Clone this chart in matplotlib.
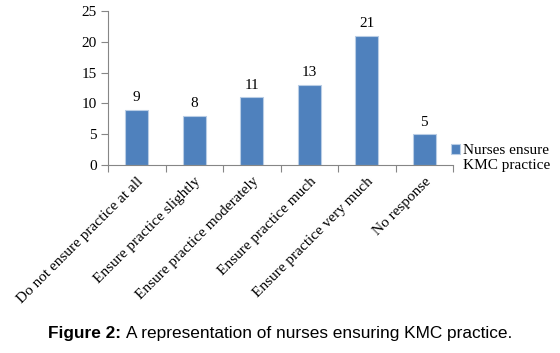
import matplotlib
matplotlib.use('Agg')
import matplotlib.pyplot as plt
import numpy as np

categories = ['Do not ensure practice at all', 'Ensure practice slightly',
              'Ensure practice moderately', 'Ensure practice much',
              'Ensure practice very much', 'No response']
values = [9, 8, 11, 13, 21, 5]
series_name = 'Nurses ensure\nKMC practice'

BAR_COLOR = '#4F81BD'
AXIS_COLOR = '#868686'

plt.rcParams.update({'font.family': 'Liberation Serif',
                     'font.size': 11})

fig = plt.figure(figsize=(5.6, 3.53), dpi=100)
ax = fig.add_axes([108 / 560, 1 - 165 / 353, (453 - 108) / 560, (165 - 11) / 353])

x = np.arange(len(categories))
bars = ax.bar(x, values, width=0.4, color=BAR_COLOR, edgecolor='#B9CDE5',
              linewidth=0.8, label=series_name)
ax.bar_label(bars, padding=4, fontsize=11)

ax.set_xlim(-0.5, len(categories) - 0.5)
ax.set_ylim(0, 25)
ax.set_yticks(range(0, 26, 5))
ax.set_xticks(x)
ax.set_xticklabels(categories, rotation=45, ha='right', rotation_mode='anchor')
ax.set_xticks(np.arange(-0.5, len(categories)), minor=True)
ax.tick_params(axis='x', which='major', length=0, pad=7)
ax.tick_params(axis='x', which='minor', length=5, color=AXIS_COLOR, width=0.8)
ax.tick_params(axis='y', length=5, color=AXIS_COLOR, width=0.8, pad=3)

for side in ['top', 'right']:
    ax.spines[side].set_visible(False)
for side in ['left', 'bottom']:
    ax.spines[side].set_color(AXIS_COLOR)
    ax.spines[side].set_linewidth(0.8)

leg = ax.legend(loc='upper left', bbox_to_anchor=(451 / 560, 1 - 144 / 353),
                bbox_transform=fig.transFigure, frameon=False, fontsize=11,
                handlelength=0.6, handleheight=0.6, handletextpad=0.2,
                borderpad=0, borderaxespad=0)
for t in leg.get_texts():
    t.set_linespacing(1.15)
# square next to the first line, like the original
for col in leg._legend_handle_box.get_children():
    for row in col.get_children():
        row.align = 'top'

fig.text(48 / 560, 1 - 338 / 353, 'Figure 2:', fontsize=12.4,
         fontweight='bold', family='Liberation Sans', va='baseline')
fig.text(126 / 560, 1 - 338 / 353, 'A representation of nurses ensuring KMC practice.',
         fontsize=12.4, family='Liberation Sans', va='baseline')

fig.savefig('out.png', dpi=100)
